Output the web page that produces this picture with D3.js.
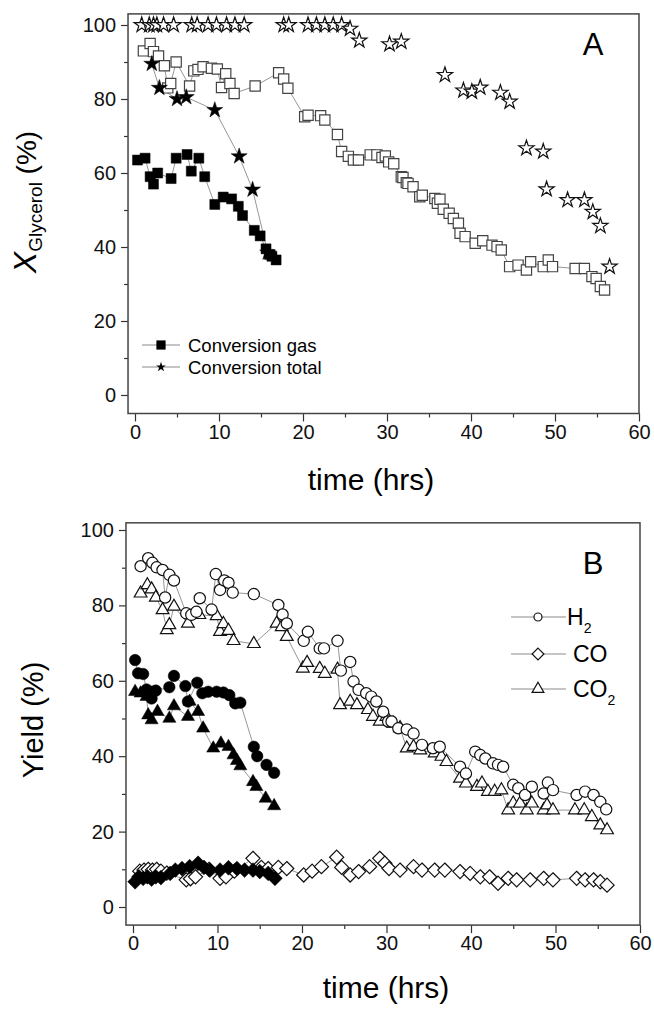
<!DOCTYPE html>
<html><head><meta charset="utf-8">
<script src="https://cdn.jsdelivr.net/npm/d3@7"></script>
<style>body{margin:0;background:#fff}svg{display:block}text{font-family:"Liberation Sans",Arial,sans-serif}</style>
</head><body><svg id="c" width="654" height="1009"></svg>
<script>
// ---------- DATA (t in hrs, value in %) ----------
const xTicks = [0,10,20,30,40,50,60];
const yTicks = [0,20,40,60,80,100];

const gasFilledA = [[0.3,63.5],[1.2,64],[1.8,59],[2.2,57],[2.7,60],[4.3,58.5],[4.9,64],[6.2,65],[6.7,60.5],[7.6,64],[8.3,59],[9.5,51.5],[10.5,53.5],[11.5,53],[12.3,51],[12.8,48.5],[14.2,44.5],[14.9,43],[15.6,39.5],[16.0,38],[16.3,37.5],[16.8,36.5]];
const totalFilledA = [[2.0,89.5],[2.9,83],[5.0,80],[6.1,80.5],[9.5,77],[12.4,64.5],[14.0,55.5],[15.8,38.5]];
const gasOpenA = [[1.0,93],[1.8,95],[2.2,92.8],[2.8,91.6],[3.5,89],[3.9,83],[4.25,84.2],[4.9,90],[6.5,83.5],[7.0,87.6],[7.5,88],[8.1,88.7],[9.1,88.3],[9.8,88.1],[10.3,83.1],[10.8,86.8],[11.3,84.2],[11.8,81.5],[14.3,83.5],[17.1,87.1],[17.7,85.4],[18.2,82.9],[20.2,75.2],[20.6,75.6],[22.1,75.5],[22.6,74.3],[24.1,70.4],[24.6,65.8],[25.4,64.5],[26.0,63.5],[26.6,63.5],[28.0,64.9],[28.8,64.9],[29.4,64.2],[29.8,64.6],[30.2,63],[30.8,62.5],[31.7,59],[31.9,58.8],[32.3,57.4],[32.5,57.2],[33.1,56.3],[33.9,53.6],[34.2,54],[35.7,53.1],[36.0,51.8],[36.3,52.9],[36.7,50.2],[37.4,49.1],[37.9,47.7],[38.5,46.4],[38.7,43.7],[39.3,42.8],[40.5,41],[41.4,41.7],[42.5,40.5],[43.1,40.1],[43.6,39.2],[44.6,34.7],[45.6,35.1],[46.6,33.8],[47.1,36],[48.6,34.7],[49.2,36.5],[49.7,34.7],[52.4,34.2],[53.5,34.2],[54.4,32],[54.9,31.5],[55.4,29.3],[55.9,28.4]];
const totalOpenA = [[0.8,100],[1.7,100],[2.2,100],[2.6,100],[3.4,100],[4.6,100],[6.75,100],[7.4,100],[8.7,100],[9.7,100],[10.9,100],[11.9,100],[13.0,100],[17.7,100],[18.3,100],[20.6,100],[21.6,100],[22.6,100],[23.6,100],[24.6,100],[25.6,99],[26.7,95.8],[30.3,94.8],[31.7,95.5],[36.9,86.5],[39.1,82.3],[40.1,82],[41.1,83.1],[43.5,81.7],[44.6,79.3],[46.6,66.7],[48.6,65.8],[49.0,55.6],[51.5,52.7],[53.5,52.7],[54.5,49.5],[55.4,45.7],[56.5,34.7]];

const h2Open = [[0.9,90.4],[1.8,92.5],[2.3,91.3],[2.8,90.1],[3.5,89.4],[3.8,82.1],[4.3,88.1],[4.85,86.6],[6.3,77.9],[6.9,77.5],[7.5,78.3],[7.9,81.9],[9.3,78.9],[9.8,88.3],[10.3,84.1],[10.8,86.6],[11.3,86],[11.8,83.4],[14.3,83],[17.2,80.1],[17.7,77.6],[18.2,75.2],[20.2,70.6],[20.7,73],[22.1,68.6],[22.6,68.6],[24.2,70.6],[24.6,62.7],[25.7,65],[26.1,59.8],[26.7,57.6],[27.6,56.7],[28.2,55.8],[28.8,54.5],[29.6,51.8],[30.2,49.2],[30.6,49.2],[31.4,47.4],[32.4,47.1],[33.2,46],[34.2,43],[35.5,42.1],[36.3,42.5],[38.7,37.2],[39.4,35.4],[40.5,41.2],[41.1,40.3],[41.7,39.4],[42.6,38.1],[43.2,37.7],[43.8,37.2],[45.0,32.4],[45.6,31.5],[46.4,29.7],[47.2,31.9],[48.6,30.1],[49.1,33],[49.7,31],[52.5,29.7],[53.5,30.6],[54.5,29.7],[55.3,27.9],[56.0,25.9]];
const co2Open = [[0.9,83.2],[1.7,85.4],[2.2,84.3],[2.7,82.1],[3.5,78.8],[4.0,73.5],[4.3,74.8],[4.85,79.7],[6.5,75.2],[7.85,77.5],[9.9,77.2],[10.3,73],[10.7,75.1],[11.3,73.3],[11.9,70.6],[14.3,69.8],[17.0,75.2],[17.6,74.3],[18.2,71.7],[20.1,63.3],[20.6,64.8],[22.1,63.2],[22.7,61.9],[24.2,63],[24.5,53.6],[25.7,54.5],[26.5,53.6],[27.8,52.3],[28.4,50.5],[29.2,49.2],[30.0,50.5],[30.8,48.7],[31.6,47.5],[32.4,42.1],[33.2,42.5],[34.0,41.6],[35.7,40.8],[36.5,39.9],[37.1,38.5],[38.7,34.1],[39.4,32.8],[40.7,31.9],[41.3,32.8],[42.0,30.6],[42.8,30.6],[43.6,31],[44.4,25.7],[45.0,27.5],[45.8,27.5],[46.6,25.7],[47.2,27.5],[48.6,25.7],[49.0,27],[49.7,25.7],[52.3,25.7],[53.4,25.7],[54.3,23.9],[55.3,21.7],[56.1,20.4]];
const coOpen = [[0.8,9.5],[1.3,9.8],[1.8,10],[2.3,9.8],[2.8,10],[3.3,9.5],[4.0,9],[6.3,7.2],[6.8,7.5],[7.4,8],[9.0,10],[10.3,7.6],[11.0,8],[12.0,9.5],[14.2,12.9],[15.2,10.5],[16.0,10.2],[17.2,10.5],[18.2,10.2],[20.2,8.5],[21.2,9.5],[22.3,10.7],[24.1,13.2],[24.7,10.5],[25.7,8.5],[26.7,9.4],[28.0,10.7],[29.2,12.9],[29.8,11.6],[30.3,10.2],[31.6,9.8],[33.2,10.7],[34.2,9.8],[35.7,9.8],[36.9,9.8],[38.7,9.4],[39.9,8.9],[41.1,8],[42.2,8],[43.2,6.3],[44.4,7.6],[45.4,7.2],[47.0,7.2],[48.6,7.6],[49.7,7.2],[52.5,7.6],[53.5,7.2],[54.5,7.2],[55.3,6.7],[56.1,5.8]];
const h2Filled = [[0.25,65.5],[0.6,62],[1.2,61.8],[1.6,57.7],[2.2,55.3],[2.2,57.1],[2.7,57.4],[4.3,58.3],[4.85,61.3],[6.2,58.6],[6.5,54.5],[7.6,59.5],[8.2,56.7],[8.9,57.1],[9.9,57.1],[10.7,56.9],[11.4,56.2],[12.1,54],[12.7,54.2],[14.3,42.5],[14.7,40],[15.8,37.7],[16.7,35.6]];
const co2Filled = [[0.25,57.1],[0.9,56.7],[1.6,55.8],[1.8,50.9],[2.2,49.6],[2.9,51.8],[4.3,50],[4.85,53.3],[6.5,50.5],[6.7,54.5],[7.7,51.8],[8.3,47.4],[9.5,42.1],[10.4,43.4],[11.3,42.5],[11.9,40.3],[12.3,38.8],[12.7,37.4],[14.2,33.2],[14.6,31.9],[15.7,28.8],[16.7,26.8]];
const coFilled = [[0.25,6.7],[0.7,8],[1.2,7.6],[1.7,8],[2.2,7.4],[2.7,8],[3.3,7.8],[4.4,8.9],[5.0,9.8],[5.8,10.2],[6.7,10.7],[7.7,11.6],[8.4,10.5],[9.1,9.8],[10.3,9.8],[11.3,10.4],[12.3,10.2],[13.2,9.8],[14.2,9.8],[15.0,9.4],[16.0,8.9],[16.8,7.6]];

// ---------- DRAW ----------
const svg = d3.select("#c");
const FONT = '"Liberation Sans",Arial,sans-serif';

const diamond = {draw(ctx, size){const r=Math.sqrt(size)/1.414; ctx.moveTo(0,-r);ctx.lineTo(r,0);ctx.lineTo(0,r);ctx.lineTo(-r,0);ctx.closePath();}};
const sym = (type,size)=>d3.symbol().type(type).size(size)();

function panel(cfg){
  const g = svg.append("g");
  const x = d3.scaleLinear().domain([0,60]).range(cfg.xr);
  const y = d3.scaleLinear().domain([0,100]).range(cfg.yr);
  const L = x(cfg.xmin), R = x(60), T = y(cfg.ymax), B = y(cfg.ymin);
  g.append("g").attr("transform",`translate(0,${B})`)
    .call(d3.axisBottom(x).tickValues(xTicks).tickSize(8).tickPadding(3).tickFormat(d3.format("d")));
  g.append("g").attr("transform",`translate(0,${B})`)
    .call(d3.axisBottom(x).tickValues([5,15,25,35,45,55]).tickSize(4).tickFormat(""));
  g.append("g").attr("transform",`translate(${L},0)`)
    .call(d3.axisLeft(y).tickValues(yTicks).tickSize(7).tickPadding(5).tickFormat(d3.format("d")));
  g.append("g").attr("transform",`translate(${L},0)`)
    .call(d3.axisLeft(y).tickValues([10,30,50,70,90]).tickSize(4).tickFormat(""));
  g.selectAll(".domain").remove();
  g.selectAll(".tick line").attr("stroke","#333").attr("stroke-width",1.2);
  g.selectAll(".tick text").attr("font-size",20).attr("font-family",FONT).attr("fill","#111");
  g.append("rect").attr("x",L).attr("y",T).attr("width",R-L).attr("height",B-T)
    .attr("fill","none").attr("stroke","#444").attr("stroke-width",1.5);
  const line = d3.line().x(d=>x(d[0])).y(d=>y(d[1]));
  cfg.series.forEach(s=>{
    if(s.line) g.append("path").attr("d",line(s.data)).attr("fill","none")
      .attr("stroke","#8a8a8a").attr("stroke-width",0.9);
  });
  cfg.series.forEach(s=>{
    g.append("g").selectAll("path").data(s.data).join("path")
      .attr("transform",d=>`translate(${x(d[0])},${y(d[1])})`)
      .attr("d",sym(s.type,s.size))
      .attr("fill",s.filled?"#000":"#fff")
      .attr("stroke",s.filled?"#000":(s.stroke||"#111"))
      .attr("stroke-width",s.filled?0.5:1.2);
  });
}

// Panel A
panel({xr:[135,639], yr:[395,25], xmin:-0.83, ymin:-5, ymax:103,
  series:[
    {data:totalOpenA, type:d3.symbolStar, size:72, filled:false, line:false},
    {data:gasOpenA, type:d3.symbolSquare, size:105, filled:false, line:true, stroke:"#444"},
    {data:gasFilledA, type:d3.symbolSquare, size:100, filled:true, line:true},
    {data:totalFilledA, type:d3.symbolStar, size:80, filled:true, line:true}
  ]});
// Panel B
panel({xr:[133,640], yr:[907,530], xmin:-0.83, ymin:-4.8, ymax:101.9,
  series:[
    {data:coOpen, type:diamond, size:100, filled:false, line:true},
    {data:co2Open, type:d3.symbolTriangle, size:70, filled:false, line:true},
    {data:h2Open, type:d3.symbolCircle, size:100, filled:false, line:true},
    {data:coFilled, type:diamond, size:110, filled:true, line:true},
    {data:co2Filled, type:d3.symbolTriangle, size:75, filled:true, line:true},
    {data:h2Filled, type:d3.symbolCircle, size:105, filled:true, line:true}
  ]});

// panel letters
svg.append("text").attr("x",593).attr("y",55).attr("text-anchor","middle").attr("font-size",31).text("A");
svg.append("text").attr("x",593).attr("y",574).attr("text-anchor","middle").attr("font-size",31).text("B");

// x titles
svg.append("text").attr("x",371).attr("y",490).attr("text-anchor","middle").attr("font-size",30).text("time (hrs)");
svg.append("text").attr("x",386).attr("y",998).attr("text-anchor","middle").attr("font-size",30).text("time (hrs)");

// y titles
const ytA = svg.append("text").attr("transform","translate(36,202) rotate(-90)").attr("text-anchor","middle");
ytA.append("tspan").attr("font-size",32).attr("font-style","italic").text("X");
ytA.append("tspan").attr("font-size",19).attr("dy",6).text("Glycerol");
ytA.append("tspan").attr("font-size",28).attr("dy",-6).text(" (%)");
svg.append("text").attr("transform","translate(43,720) rotate(-90)").attr("text-anchor","middle").attr("font-size",29).text("Yield (%)");

// Legend A
const legA = [{label:"Conversion gas", type:d3.symbolSquare, size:85, y:345},
              {label:"Conversion total", type:d3.symbolStar, size:30, y:367}];
legA.forEach(d=>{
  svg.append("line").attr("x1",142).attr("x2",180).attr("y1",d.y).attr("y2",d.y).attr("stroke","#8a8a8a").attr("stroke-width",1);
  svg.append("path").attr("transform",`translate(161,${d.y})`).attr("d",sym(d.type,d.size)).attr("fill","#000");
  svg.append("text").attr("x",188).attr("y",d.y+6.5).attr("font-size",18.5).text(d.label);
});
// Legend B
const legB = [{lab:"H",sub:"2",type:d3.symbolCircle,y:617,tx:567},
              {lab:"CO",sub:"",type:diamond,y:654,tx:573},
              {lab:"CO",sub:"2",type:d3.symbolTriangle,y:689,tx:573}];
legB.forEach(d=>{
  svg.append("line").attr("x1",511).attr("x2",566).attr("y1",d.y).attr("y2",d.y).attr("stroke","#8a8a8a").attr("stroke-width",1);
  svg.append("path").attr("transform",`translate(538,${d.y})`).attr("d",sym(d.type,d.type===d3.symbolCircle?50:(d.type===diamond?70:60))).attr("fill","#fff").attr("stroke","#111").attr("stroke-width",1.2);
  const t = svg.append("text").attr("x",d.tx).attr("y",d.y+8).attr("font-size",23);
  t.append("tspan").text(d.lab);
  if(d.sub) t.append("tspan").attr("font-size",14).attr("dy",8).text(d.sub);
});
</script></body></html>
